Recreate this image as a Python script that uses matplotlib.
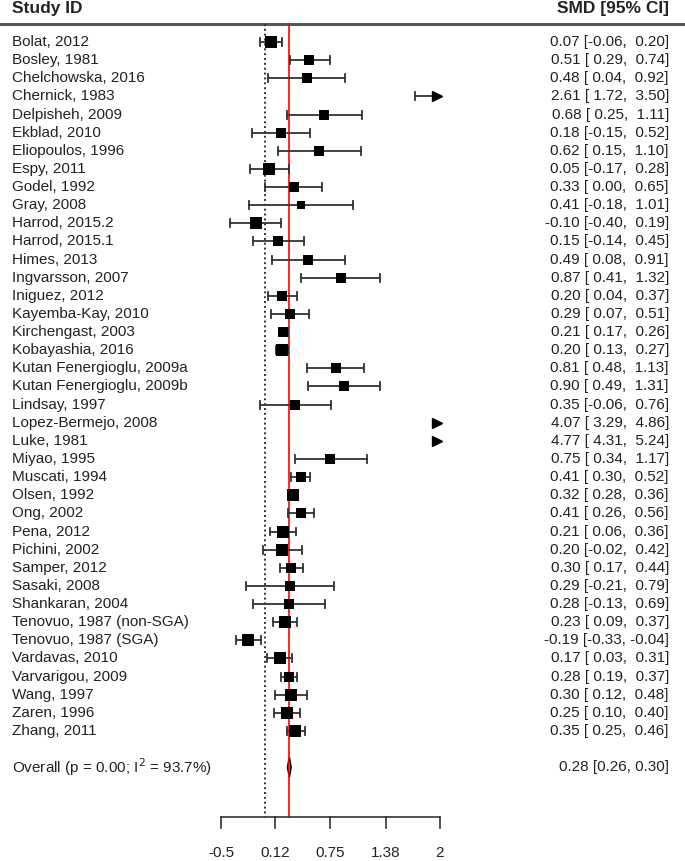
import matplotlib
matplotlib.use("Agg")
from matplotlib import pyplot as plt
from matplotlib.patches import Polygon

studies = ["Bolat, 2012", "Bosley, 1981", "Chelchowska, 2016", "Chernick, 1983",
           "Delpisheh, 2009", "Ekblad, 2010", "Eliopoulos, 1996", "Espy, 2011",
           "Godel, 1992", "Gray, 2008", "Harrod, 2015.2", "Harrod, 2015.1",
           "Himes, 2013", "Ingvarsson, 2007", "Iniguez, 2012", "Kayemba-Kay, 2010",
           "Kirchengast, 2003", "Kobayashia, 2016", "Kutan Fenergioglu, 2009a",
           "Kutan Fenergioglu, 2009b", "Lindsay, 1997", "Lopez-Bermejo, 2008",
           "Luke, 1981", "Miyao, 1995", "Muscati, 1994", "Olsen, 1992", "Ong, 2002",
           "Pena, 2012", "Pichini, 2002", "Samper, 2012", "Sasaki, 2008",
           "Shankaran, 2004", "Tenovuo, 1987 (non-SGA)", "Tenovuo, 1987 (SGA)",
           "Vardavas, 2010", "Varvarigou, 2009", "Wang, 1997", "Zaren, 1996",
           "Zhang, 2011"]
smd = [0.07, 0.51, 0.48, 2.61, 0.68, 0.18, 0.62, 0.05, 0.33, 0.41, -0.10, 0.15,
       0.49, 0.87, 0.20, 0.29, 0.21, 0.20, 0.81, 0.90, 0.35, 4.07, 4.77, 0.75,
       0.41, 0.32, 0.41, 0.21, 0.20, 0.30, 0.29, 0.28, 0.23, -0.19, 0.17, 0.28,
       0.30, 0.25, 0.35]
lower = [-0.06, 0.29, 0.04, 1.72, 0.25, -0.15, 0.15, -0.17, 0.00, -0.18, -0.40,
         -0.14, 0.08, 0.41, 0.04, 0.07, 0.17, 0.13, 0.48, 0.49, -0.06, 3.29, 4.31,
         0.34, 0.30, 0.28, 0.26, 0.06, -0.02, 0.17, -0.21, -0.13, 0.09, -0.33, 0.03,
         0.19, 0.12, 0.10, 0.25]
upper = [0.20, 0.74, 0.92, 3.50, 1.11, 0.52, 1.10, 0.28, 0.65, 1.01, 0.19, 0.45,
         0.91, 1.32, 0.37, 0.51, 0.26, 0.27, 1.13, 1.31, 0.76, 4.86, 5.24, 1.17,
         0.52, 0.36, 0.56, 0.36, 0.42, 0.44, 0.79, 0.69, 0.37, -0.04, 0.31, 0.37,
         0.48, 0.40, 0.46]
weight = [10, 9, 8, 8, 8, 8, 8, 10, 9, 7, 10, 8, 8, 8, 9, 9, 9, 10, 9, 8, 8, 8, 8,
          8, 9, 10, 9, 10, 10, 9, 8, 8, 10, 10, 10, 9, 10, 10, 10]
overall_label = "Overall (p = 0.00; I$^2$ = 93.7%)"
overall = [0.28, 0.26, 0.30]
xticks = [-0.5, 0.12, 0.75, 1.38, 2]
xtick_labels = ["-0.5", "0.12", "0.75", "1.38", "2"]

plt.rcParams['font.family'] = ['Liberation Sans', 'DejaVu Sans']
txt_col = '#222222'
line_col = '#333333'

fig = plt.figure(figsize=(6.85, 8.61), dpi=100)
ax = fig.add_axes([0, 0, 1, 1])
ax.axis('off')

# map pixels -> data: x0 at 264.8 px, 87.6 px per unit; rows start at 42 px, 18.13 px apart
px_unit, x_zero = 87.6, 264.8
row_h, y_first = 18.13, 42
ax.set_xlim(-x_zero / px_unit, (685 - x_zero) / px_unit)
ax.set_ylim((861 - y_first) / row_h, -y_first / row_h)

def xp(px):
    return (px - x_zero) / px_unit

def yp(px):
    return (px - y_first) / row_h

xmin, xmax = xticks[0], xticks[-1]
top, bottom = yp(24), yp(817)
fs = 11

# header
ax.text(xp(12), yp(9), "Study ID", fontsize=12.5, fontweight='bold', va='center', color=txt_col)
ax.text(xp(669), yp(9), "SMD [95% CI]", fontsize=12.5, fontweight='bold', va='center', ha='right', color=txt_col)
ax.axhline(top, color='#555555', lw=2.2)

# reference lines
ax.plot([0, 0], [top, bottom], color='#333333', lw=1.4, ls=(0, (1, 1.5)))
ax.plot([overall[0], overall[0]], [top, bottom], color='red', lw=1.2)

cap = 0.22
for i, (name, m, lo, hi, w) in enumerate(zip(studies, smd, lower, upper, weight)):
    ax.text(xp(12), i, name, fontsize=fs, va='center', color=txt_col)
    ax.text(xp(669), i, f"{m:.2f} [{lo:5.2f}, {hi:5.2f}]", fontsize=fs, va='center',
            ha='right', color=txt_col)
    if lo >= xmax:
        ax.plot(xmax - 0.03, i, marker='>', color='black', ms=6.5, mec='black')
        continue
    right = min(hi, xmax)
    ax.plot([lo, right], [i, i], color=line_col, lw=1.3)
    ax.plot([lo, lo], [i - cap, i + cap], color=line_col, lw=1.3)
    if hi > xmax:
        ax.plot(xmax - 0.03, i, marker='>', color='black', ms=6.5)
        continue
    ax.plot([hi, hi], [i - cap, i + cap], color=line_col, lw=1.3)
    ax.plot(m, i, marker='s', color='black', ms=w * 0.82, mew=0)

# overall diamond
yo = len(studies) + 1
ax.text(xp(12), yo, overall_label, fontsize=fs, va='center', color=txt_col)
ax.text(xp(669), yo, f"{overall[0]:.2f} [{overall[1]:.2f}, {overall[2]:.2f}]", fontsize=fs,
        va='center', ha='right', color=txt_col)
ax.add_patch(Polygon([[overall[1], yo], [overall[0], yo - 0.55], [overall[2], yo],
                      [overall[0], yo + 0.55]], closed=True, fc='white', ec='black', lw=1.2))

# x axis
ax.plot([xmin, xmax], [bottom, bottom], color=line_col, lw=1.2)
for t, lab in zip(xticks, xtick_labels):
    ax.plot([t, t], [bottom, yp(828)], color=line_col, lw=1.2)
    ax.text(t, yp(853), lab, fontsize=fs, ha='center', va='center', color=txt_col)

fig.savefig('out.png', dpi=100)
